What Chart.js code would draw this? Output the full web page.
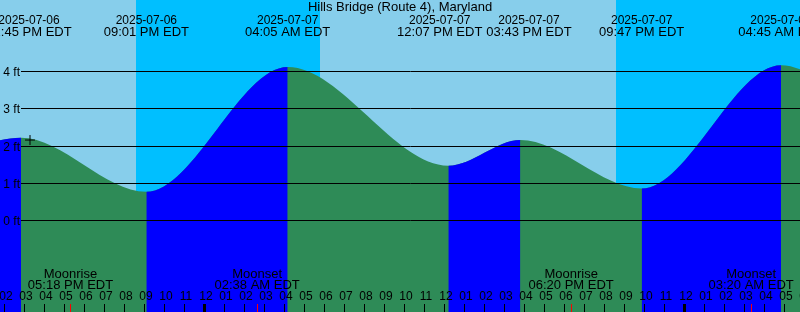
<!DOCTYPE html>
<html>
<head>
<meta charset="utf-8">
<script src="https://cdn.jsdelivr.net/npm/chart.js@4.4.1/dist/chart.umd.min.js"></script>
<style>
  html, body { margin: 0; padding: 0; background: #87ceeb; }
  #wrap { width: 800px; height: 312px; position: relative; }
</style>
</head>
<body>
<div id="wrap"><canvas id="grafico"></canvas></div>
<script>
// ====================================
// Tide graph - Hills Bridge (Route 4)
// ====================================
const titulo = 'Hills Bridge (Route 4), Maryland';

// tide highs/lows (local time, EDT). first and last ones are off the picture
const tideTimes = ['2025-07-06 08:27', '2025-07-06 14:45', '2025-07-06 21:01', '2025-07-07 04:05',
                   '2025-07-07 12:07', '2025-07-07 15:43', '2025-07-07 21:47', '2025-07-08 04:45',
                   '2025-07-08 11:10'];
const tideHeights = [0.9, 2.22, 0.77, 4.12, 1.47, 2.16, 0.86, 4.17, 1.4];

// sun and moon
const sunsetTimes = ['2025-07-06 20:30', '2025-07-07 20:30'];
const sunriseTimes = ['2025-07-07 05:42', '2025-07-08 05:43'];
const moonNames = ['Moonrise', 'Moonset', 'Moonrise', 'Moonset'];
const moonTimes = ['2025-07-06 17:18', '2025-07-07 02:38', '2025-07-07 18:20', '2025-07-08 03:20'];

// "now" marker
const markerTime = '2025-07-06 15:12';
const markerHeight = 2.16;

// axes
const yTicks = [0, 1, 2, 3, 4];
const yUnit = 'ft';
const viewStart = '2025-07-06 13:42';
const viewEnd = '2025-07-08 05:42';
const yMin = -2.4564;
const yMax = 5.9195;

const colorDia = '#87ceeb';
const colorNoche = '#00bfff';
const colorSube = '#0000ff';
const colorBaja = '#2e8b57';
const fuenteGrande = '13px "Liberation Sans", Arial, sans-serif';
const fuenteChica = '12px "Liberation Sans", Arial, sans-serif';

//convierte 'YYYY-MM-DD HH:MM' a horas desde 2025-07-07 00:00
function toHours(s) {
    const [d, t] = s.split(' ');
    const [Y, M, D] = d.split('-').map(Number);
    const [h, m] = t.split(':').map(Number);
    return (Date.UTC(Y, M - 1, D, h, m) - Date.UTC(2025, 6, 7)) / 3600000;
}

//formato 12 horas
function fmt12(s) {
    const [h, m] = s.split(' ')[1].split(':').map(Number);
    const hh = (h % 12) || 12;
    return String(hh).padStart(2, '0') + ':' + String(m).padStart(2, '0') + (h < 12 ? ' AM' : ' PM') + ' EDT';
}

const puntosMarea = tideTimes.map((t, i) => ({ x: toHours(t), y: tideHeights[i] }));

//fondo dia / noche
const fondoDiaNoche = {
    id: 'fondoDiaNoche',
    beforeDraw(chart) {
        const { ctx, chartArea: a, scales: { x } } = chart;
        ctx.save();
        ctx.fillStyle = colorDia;
        ctx.fillRect(a.left, a.top, a.width, a.height);
        ctx.fillStyle = colorNoche;
        sunsetTimes.forEach((s, i) => {
            const x0 = x.getPixelForValue(toHours(s));
            const x1 = x.getPixelForValue(toHours(sunriseTimes[i]));
            ctx.fillRect(x0, a.top, x1 - x0, a.height);
        });
        ctx.restore();
    }
};

//lineas, etiquetas y textos
const textosMarea = {
    id: 'textosMarea',
    afterDraw(chart) {
        const { ctx, chartArea: a, scales: { x, y } } = chart;
        ctx.save();
        ctx.fillStyle = '#000';
        ctx.strokeStyle = '#000';

        // grid lines + y labels
        ctx.font = fuenteChica;
        ctx.lineWidth = 1;
        ctx.textAlign = 'right';
        ctx.textBaseline = 'alphabetic';
        yTicks.forEach(v => {
            const py = Math.floor(y.getPixelForValue(v)) + 0.5;
            ctx.beginPath();
            ctx.moveTo(21, py);
            ctx.lineTo(a.right, py);
            ctx.stroke();
            ctx.fillText(v + ' ' + yUnit, 20, py + 4);
        });

        // title
        ctx.font = fuenteGrande;
        ctx.textAlign = 'center';
        ctx.fillText(titulo, (a.left + a.right) / 2, 11);

        // tide labels on top, pushed apart if they overlap
        const etiquetas = [];
        tideTimes.forEach((t, i) => {
            const h = toHours(t);
            if (h < x.min || h > x.max) return;
            etiquetas.push({ x: x.getPixelForValue(h), fecha: t.split(' ')[0], hora: fmt12(t) });
        });
        const ancho = ctx.measureText('00:00 PM EDT').width + 4;
        if (etiquetas.length) etiquetas[0].x = Math.max(etiquetas[0].x, 29);
        for (let i = 1; i < etiquetas.length; i++) {
            const falta = ancho - (etiquetas[i].x - etiquetas[i - 1].x);
            if (falta > 0) {
                etiquetas[i - 1].x -= falta / 2;
                etiquetas[i].x += falta / 2;
            }
        }
        etiquetas.forEach(e => {
            ctx.font = fuenteChica;
            ctx.fillText(e.fecha, e.x, 23.5);
            ctx.font = fuenteGrande;
            ctx.fillText(e.hora, e.x, 36);
        });

        // hour ticks along the bottom
        ctx.font = fuenteChica;
        for (let h = Math.floor(x.min); h <= Math.ceil(x.max); h++) {
            const px = x.getPixelForValue(h);
            const hr = ((h % 24) + 24) % 24;
            const txt = String((hr % 12) || 12).padStart(2, '0');
            ctx.fillText(txt, px, 300);
            ctx.fillRect(Math.round(px - 2) - (hr === 0 ? 1 : 0), 304, hr === 0 ? 3 : 1, 8);
        }

        // moon rise / set
        ctx.font = fuenteGrande;
        moonTimes.forEach((t, i) => {
            const px = x.getPixelForValue(toHours(t));
            ctx.fillStyle = '#ff0000';
            ctx.fillRect(Math.round(px - 2), 304, 1, 8);
            ctx.fillStyle = '#000';
            ctx.fillText(moonNames[i], px - 1.5, 278);
            ctx.fillText(fmt12(t), px - 1.5, 289);
        });
        ctx.restore();
    }
};

new Chart(document.getElementById('grafico'), {
    type: 'line',
    data: {
        datasets: [{
            // rising parts in blue, drawn over the green one
            data: puntosMarea,
            fill: 'start',
            borderWidth: 0,
            borderColor: 'rgba(0,0,0,0)',
            backgroundColor: 'rgba(0,0,0,0)',
            pointRadius: 0,
            cubicInterpolationMode: 'monotone',
            capBezierPoints: false,
            segment: {
                backgroundColor: c => tideHeights[c.p1DataIndex] > tideHeights[c.p0DataIndex] ? colorSube : 'rgba(0,0,0,0)'
            }
        }, {
            data: [{ x: toHours(markerTime), y: markerHeight }],
            showLine: false,
            pointStyle: 'cross',
            pointRadius: 5,
            borderColor: '#000',
            borderWidth: 1
        }, {
            // whole tide in green
            data: puntosMarea,
            fill: 'start',
            borderWidth: 0,
            borderColor: 'rgba(0,0,0,0)',
            backgroundColor: colorBaja,
            pointRadius: 0,
            cubicInterpolationMode: 'monotone',
            capBezierPoints: false
        }]
    },
    options: {
        responsive: true,
        maintainAspectRatio: false,
        animation: false,
        events: [],
        layout: { padding: 0, autoPadding: false },
        scales: {
            x: { type: 'linear', display: false, min: toHours(viewStart), max: toHours(viewEnd) },
            y: { display: false, min: yMin, max: yMax }
        },
        plugins: {
            legend: { display: false },
            title: { display: false },
            tooltip: { enabled: false }
        }
    },
    plugins: [fondoDiaNoche, textosMarea]
});
</script>
</body>
</html>
